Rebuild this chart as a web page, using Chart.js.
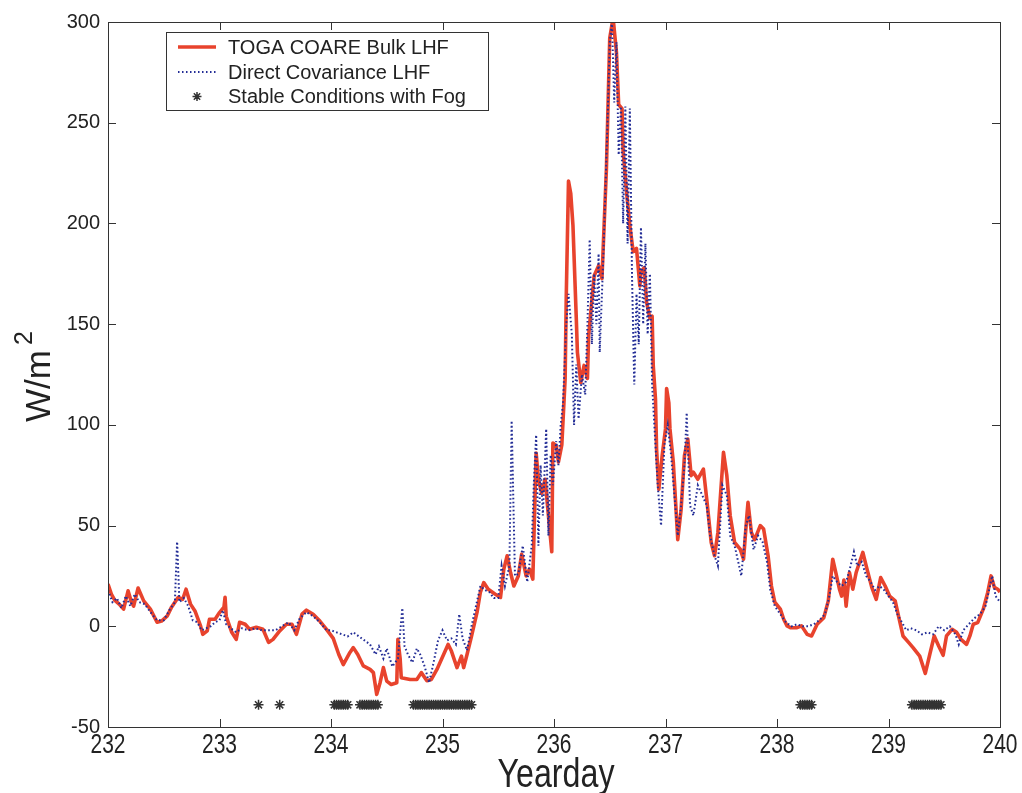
<!DOCTYPE html>
<html><head><meta charset="utf-8">
<script src="https://cdn.jsdelivr.net/npm/chart.js@4.4.1/dist/chart.umd.min.js"></script>
<style>html,body{margin:0;padding:0;background:#fff;overflow:hidden}#wrap{width:1022px;height:793px}</style>
</head><body><div id="wrap"><canvas id="c" width="1022" height="793"></canvas></div>
<script>
const xTicks = [232,233,234,235,236,237,238,239,240];
const yTicks = [-50,0,50,100,150,200,250,300];

const bulkX = [232.00,232.03,232.06,232.10,232.14,232.18,232.21,232.23,232.27,232.32,232.38,232.44,232.48,232.53,232.57,232.63,232.67,232.70,232.74,232.78,232.83,232.85,232.89,232.91,232.96,233.00,233.04,233.05,233.06,233.11,233.15,233.18,233.23,233.27,233.33,233.39,233.44,233.48,233.54,233.60,233.65,233.69,233.74,233.78,233.84,233.90,233.96,234.02,234.07,234.11,234.17,234.20,234.24,234.29,234.35,234.38,234.41,234.44,234.47,234.50,234.54,234.59,234.60,234.62,234.63,234.71,234.77,234.81,234.86,234.90,234.95,235.01,235.05,235.08,235.13,235.17,235.19,235.22,235.26,235.31,235.34,235.37,235.41,235.47,235.52,235.55,235.58,235.61,235.64,235.68,235.71,235.75,235.78,235.81,235.84,235.86,235.89,235.92,235.98,235.99,236.02,236.04,236.07,236.10,236.11,236.13,236.15,236.17,236.20,236.21,236.24,236.27,236.30,236.31,236.36,236.40,236.43,236.47,236.50,236.53,236.56,236.58,236.61,236.62,236.65,236.68,236.71,236.74,236.77,236.78,236.81,236.83,236.86,236.88,236.89,236.91,236.92,236.94,236.97,237.00,237.01,237.03,237.04,237.07,237.11,237.14,237.17,237.20,237.23,237.25,237.29,237.34,237.37,237.41,237.44,237.47,237.52,237.55,237.58,237.62,237.67,237.70,237.73,237.74,237.77,237.80,237.85,237.88,237.92,237.95,237.98,238.03,238.06,238.09,238.12,238.18,238.22,238.27,238.31,238.36,238.42,238.46,238.50,238.53,238.56,238.58,238.60,238.62,238.65,238.68,238.71,238.77,238.80,238.85,238.89,238.93,238.97,239.01,239.06,239.09,239.13,239.18,239.22,239.28,239.33,239.37,239.41,239.45,239.49,239.52,239.57,239.61,239.65,239.70,239.73,239.76,239.80,239.85,239.89,239.92,239.95,239.98,240.00];
const bulkY = [21,16,13,11,8.5,17.6,12,10,19,12.6,8.5,2,2.6,5,9.5,14.4,13.4,18.4,11,7.6,0.2,-4,-2.3,3.5,3.5,6.8,9.5,14.4,5,-3,-6.5,2,1,-1.5,-0.5,-1.5,-8,-6.5,-2.3,1,1,-4,6,8,6,2.6,-1.5,-6,-14,-19,-13,-10.6,-14,-19.7,-21.4,-23,-33.8,-28,-20.5,-27.2,-28.9,-28,-6.5,-16,-25.5,-26.4,-26.4,-23,-27,-26.4,-21.4,-14,-9,-12.3,-20.5,-14.8,-20.5,-14,-5,7,17,21.7,18.4,16,14.3,28.4,35,26.7,20,25,35.8,25,28.4,23.4,86,73,66,73,37,91,89.7,81.6,90,123,164,221,215,199,152.7,136,121,129.5,123,144,174,179,172.6,227,292,302,285,259,257,236,216,199,186,187.6,169,176,178,161,153,154,129.5,113,88,68,84.7,98,118,111,98,81.4,43,58,84.7,93,74.8,76.5,73,78,63,41.6,35,46.6,86.4,74.8,55,41.6,38.3,33.3,55,61.5,46.6,43,50,48.3,35,20,12,8.5,3.5,0.2,-0.7,-0.7,0.2,-4,-4.8,1,4.3,12.6,33.3,26,18.4,15,23,10,26.7,18.4,26.7,36.7,30,19.3,13.4,24.2,20,15,12.6,5,-4.8,-8,-10.6,-14.8,-23.4,-14,-4.8,-9.8,-14.4,-4.8,-1.5,-3,-6.5,-9,-4.8,1,1.8,8.5,16.8,25,19.3,18.4,17];

const dcX = [232.00,232.04,232.08,232.12,232.16,232.20,232.24,232.28,232.33,232.38,232.44,232.50,232.55,232.60,232.62,232.64,232.68,232.72,232.76,232.80,232.84,232.88,232.92,232.96,233.00,233.03,233.06,233.10,233.15,233.20,233.26,233.32,233.38,233.44,233.50,233.56,233.62,233.67,233.72,233.78,233.84,233.90,233.96,234.00,234.05,234.10,234.15,234.20,234.25,234.30,234.35,234.40,234.43,234.47,234.50,234.55,234.60,234.64,234.66,234.69,234.73,234.77,234.80,234.84,234.88,234.92,234.96,235.00,235.04,235.08,235.12,235.15,235.18,235.22,235.26,235.30,235.34,235.38,235.42,235.46,235.50,235.53,235.56,235.60,235.62,235.65,235.68,235.72,235.76,235.80,235.82,235.84,235.86,235.88,235.90,235.93,235.95,235.97,235.99,236.02,236.04,236.06,236.08,236.11,236.13,236.16,236.18,236.20,236.22,236.25,236.28,236.30,236.32,236.34,236.36,236.38,236.40,236.41,236.44,236.46,236.48,236.50,236.52,236.54,236.56,236.58,236.60,236.62,236.64,236.66,236.68,236.70,236.72,236.74,236.76,236.78,236.80,236.82,236.84,236.86,236.88,236.90,236.93,236.96,236.99,237.02,237.05,237.08,237.11,237.14,237.17,237.19,237.22,237.25,237.29,237.33,237.37,237.40,237.44,237.47,237.51,237.55,237.58,237.62,237.66,237.68,237.72,237.75,237.79,237.83,237.87,237.91,237.94,237.98,238.03,238.08,238.13,238.18,238.23,238.28,238.33,238.38,238.43,238.47,238.50,238.54,238.58,238.62,238.66,238.69,238.72,238.76,238.80,238.84,238.88,238.92,238.96,239.00,239.04,239.08,239.12,239.16,239.20,239.25,239.30,239.35,239.40,239.45,239.50,239.55,239.60,239.63,239.67,239.72,239.77,239.82,239.87,239.91,239.93,239.96,240.00];
const dcY = [18,12,14,9,15,10,16,12,11,7,3,3,8,12,42,12,14,10,3,2,-2,-1,0,2,3,8,1,-1,-3,-1,-2,-1,-2,-2,-2,0,2,-2,4,7,5,2,-2,-2,-3,-4,-5,-3,-5,-7,-9,-14,-10,-16,-11,-20,-16,9,-10,-14,-18,-11,-14,-20,-28,-18,-7,-2,-7,-6,-9,6,-6,-12,0,10,20,18,17,14,14,30,20,30,102,25,26,40,22,40,72,95,40,80,55,98,45,85,70,92,80,100,110,150,165,145,100,130,103,125,115,150,192,140,175,150,185,136,180,215,250,290,300,260,290,234,258,200,258,190,257,173,120,165,140,198,150,190,145,175,120,100,70,50,90,100,85,65,45,60,80,106,60,55,70,65,60,45,35,30,70,65,45,40,30,25,50,55,38,45,42,32,18,10,6,2,0,1,0,0,1,3,6,15,25,22,20,22,30,37,30,32,25,22,18,20,18,15,12,6,2,-2,-1,-2,-4,-3,-4,0,-2,0,-4,-9,-2,1,4,6,10,20,25,15,12];

const fogX = [233.35,233.54,234.03,234.05,234.07,234.09,234.11,234.13,234.15,234.26,234.28,234.30,234.32,234.34,234.36,234.38,234.40,234.42,234.74,234.76,234.78,234.80,234.82,234.84,234.86,234.88,234.90,234.92,234.94,234.96,234.98,235.00,235.02,235.04,235.06,235.08,235.10,235.12,235.14,235.16,235.18,235.20,235.22,235.24,235.26,238.21,238.23,238.25,238.27,238.29,238.31,239.21,239.23,239.25,239.27,239.29,239.31,239.33,239.35,239.37,239.39,239.41,239.43,239.45,239.47];
const fogLevel = -39;

const seriesNames = ['TOGA COARE Bulk LHF','Direct Covariance LHF','Stable Conditions with Fog'];
const xTitle = 'Yearday';
const yTitleMain = 'W/m';
const yTitleSup = '2';

const FONT = "'Liberation Sans', Arial, sans-serif";
const RED = '#e8432d';
const BLUE = '#232d96';
const INK = '#222222';
const STAR = '#333333';

const zip = (xs, ys) => xs.map((x, i) => ({x: x, y: ys[i]}));

const framePlugin = {
  id: 'frame',
  afterDraw(chart) {
    const ctx = chart.ctx;
    const a = chart.chartArea;
    const xs = chart.scales.x, ys = chart.scales.y;
    ctx.save();
    ctx.strokeStyle = '#333';
    ctx.lineWidth = 1;
    ctx.strokeRect(Math.round(a.left) + 0.5, Math.round(a.top) + 0.5, Math.round(a.right - a.left), Math.round(a.bottom - a.top));
    const tl = 8;
    ctx.beginPath();
    xTicks.forEach(v => {
      const px = Math.round(xs.getPixelForValue(v)) + 0.5;
      ctx.moveTo(px, a.bottom); ctx.lineTo(px, a.bottom - tl);
      ctx.moveTo(px, a.top); ctx.lineTo(px, a.top + tl);
    });
    yTicks.forEach(v => {
      const py = Math.round(ys.getPixelForValue(v)) + 0.5;
      ctx.moveTo(a.left, py); ctx.lineTo(a.left + tl, py);
      ctx.moveTo(a.right, py); ctx.lineTo(a.right - tl, py);
    });
    ctx.stroke();

    // x tick labels (slightly tall, as in the reference)
    ctx.fillStyle = INK;
    ctx.textAlign = 'center';
    ctx.textBaseline = 'alphabetic';
    ctx.font = '21px ' + FONT;
    xTicks.forEach(v => {
      ctx.save();
      ctx.translate(xs.getPixelForValue(v), 753);
      ctx.scale(1, 1.3);
      ctx.fillText(String(v), 0, 0);
      ctx.restore();
    });

    // axis titles
    ctx.save();
    ctx.translate((a.left + a.right) / 2 + 2, 787);
    ctx.scale(0.92, 1.18);
    ctx.font = '35px ' + FONT;
    ctx.fillText(xTitle, 0, 0);
    ctx.restore();

    ctx.save();
    ctx.translate(50, 422);
    ctx.rotate(-Math.PI / 2);
    ctx.textAlign = 'left';
    ctx.font = '35px ' + FONT;
    ctx.fillText(yTitleMain, 0, 0);
    const w = ctx.measureText(yTitleMain).width;
    ctx.font = '25px ' + FONT;
    ctx.fillText(yTitleSup, w + 5, -18);
    ctx.restore();

    // legend box
    const lx = 166.5, ly = 32.5, lw = 322, lh = 78;
    ctx.fillStyle = '#fff';
    ctx.fillRect(lx, ly, lw, lh);
    ctx.strokeStyle = '#333';
    ctx.lineWidth = 1;
    ctx.strokeRect(lx, ly, lw, lh);
    const rows = [47, 72, 96.5];
    ctx.lineCap = 'butt';
    ctx.strokeStyle = RED; ctx.lineWidth = 3.5;
    ctx.beginPath(); ctx.moveTo(178, rows[0]); ctx.lineTo(216, rows[0]); ctx.stroke();
    ctx.strokeStyle = BLUE; ctx.lineWidth = 2; ctx.setLineDash([1.5, 2.5]);
    ctx.beginPath(); ctx.moveTo(178, rows[1]); ctx.lineTo(216, rows[1]); ctx.stroke();
    ctx.setLineDash([]);
    ctx.strokeStyle = STAR; ctx.fillStyle = STAR; ctx.lineWidth = 1.5;
    Chart.helpers.drawPoint(ctx, {pointStyle: 'star', radius: 4.5, borderWidth: 1.5}, 197, rows[2]);
    ctx.fillStyle = INK;
    ctx.textAlign = 'left';
    ctx.textBaseline = 'middle';
    ctx.font = '20px ' + FONT;
    seriesNames.forEach((t, i) => ctx.fillText(t, 228, rows[i] + 1));
    ctx.restore();
  }
};

new Chart(document.getElementById('c'), {
  type: 'line',
  data: {
    datasets: [
      {label: seriesNames[0], data: zip(bulkX, bulkY), borderColor: RED, borderWidth: 3.6, pointRadius: 0, tension: 0, borderJoinStyle: 'round', order: 2},
      {label: seriesNames[1], data: zip(dcX, dcY), borderColor: BLUE, borderWidth: 2, borderDash: [1.6, 2.4], pointRadius: 0, tension: 0, order: 1},
      {label: seriesNames[2], data: fogX.map(x => ({x: x, y: fogLevel})), showLine: false, pointStyle: 'star', pointRadius: 5, borderColor: STAR, backgroundColor: STAR, pointBorderWidth: 1.5, order: 0}
    ]
  },
  options: {
    responsive: false,
    animation: false,
    devicePixelRatio: 1,
    layout: {padding: {top: 22, right: 22, left: 0, bottom: 0}},
    plugins: {legend: {display: false}, tooltip: {enabled: false}},
    scales: {
      x: {
        type: 'linear', min: 232, max: 240,
        afterBuildTicks: s => { s.ticks = xTicks.map(v => ({value: v})); },
        afterFit: s => { s.height = 66; },
        grid: {display: false, drawTicks: false},
        border: {display: false},
        ticks: {display: false}
      },
      y: {
        type: 'linear', min: -50, max: 300,
        afterBuildTicks: s => { s.ticks = yTicks.map(v => ({value: v})); },
        afterFit: s => { s.width = 108; },
        grid: {display: false, drawTicks: false},
        border: {display: false},
        ticks: {font: {family: FONT, size: 20}, color: INK, padding: 8, autoSkip: false, callback: v => String(v)}
      }
    }
  },
  plugins: [framePlugin]
});
</script>
</body></html>
